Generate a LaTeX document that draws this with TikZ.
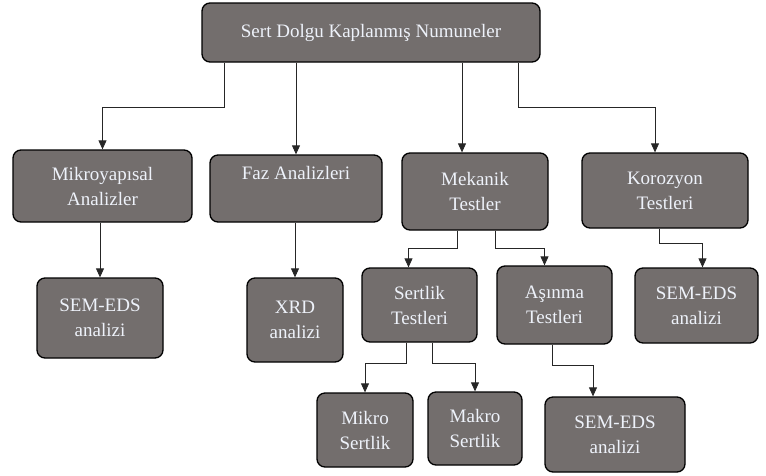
\documentclass[tikz,border=0pt]{standalone}
\usepackage{fontspec}
\setmainfont{Liberation Serif}
\usepackage{tikz}
\usetikzlibrary{arrows,arrows.meta}
\definecolor{boxgray}{HTML}{736E6D}
\definecolor{boxtext}{HTML}{EEF2FA}

\begin{document}
\begin{tikzpicture}[x=1pt, y=-1pt]
    \tikzset{box/.style = {shape=rectangle, draw=black, line width=1.3pt, rounded corners=8pt,
        fill=boxgray, text=boxtext, align=center, inner sep=0pt,
        font=\fontsize{19}{25}\selectfont}}
    \tikzset{edge/.style = {draw=black!85, line width=0.8pt, >={Triangle[length=9pt, width=8pt]}}}

    \useasboundingbox (0,0) rectangle (766,475);

    % vertices
    \node[box, minimum width=338pt, minimum height=59pt] (top) at (371,32.5) {Sert Dolgu Kaplanmış Numuneler};

    \node[box, minimum width=179pt, minimum height=72pt] (mik) at (102.5,186) {Mikroyapısal\\Analizler};
    \node[box, minimum width=172pt, minimum height=67pt] (faz) at (296,188.5) {Faz Analizleri\\[6pt]};
    \node[box, minimum width=146pt, minimum height=77pt] (mek) at (475,191.5) {Mekanik\\Testler};
    \node[box, minimum width=166pt, minimum height=75pt] (kor) at (665,190.5) {Korozyon\\Testleri};

    \node[box, minimum width=126pt, minimum height=80pt] (semA) at (100,318) {SEM-EDS\\analizi};
    \node[box, minimum width=96pt, minimum height=84pt] (xrd) at (295,320) {XRD\\analizi};
    \node[box, minimum width=115pt, minimum height=74pt] (sert) at (419.5,305) {Sertlik\\Testleri};
    \node[box, minimum width=115pt, minimum height=78pt] (asin) at (554.5,305) {Aşınma\\Testleri};
    \node[box, minimum width=123pt, minimum height=75pt] (semB) at (696.5,305.5) {SEM-EDS\\analizi};

    \node[box, minimum width=96pt, minimum height=74pt] (mikro) at (365,430) {Mikro\\Sertlik};
    \node[box, minimum width=94pt, minimum height=73pt] (makro) at (475,428.5) {Makro\\Sertlik};
    \node[box, minimum width=140pt, minimum height=75pt] (semC) at (615,434.5) {SEM-EDS\\analizi};

    % edges
    \draw[edge, ->] ([xshift=23pt]top.south west) -- ++(0,45) -| (mik.north);
    \draw[edge, ->] (top.south -| faz.north) -- (faz.north);
    \draw[edge, ->] ([xshift=-13pt]mek.north |- top.south) -- ([xshift=-13pt]mek.north);
    \draw[edge, ->] ([xshift=-22pt]top.south east) -- ++(0,45) -| ([xshift=-10pt]kor.north);

    \draw[edge, ->] (mik.south -| semA.north) -- (semA.north);
    \draw[edge, ->] (faz.south -| xrd.north) -- (xrd.north);
    \draw[edge, ->] ([xshift=-18pt]mek.south) -- ++(0,18) -| ([xshift=-11pt]sert.north);
    \draw[edge, ->] ([xshift=20pt]mek.south) -- ++(0,18) -| ([xshift=-10pt]asin.north);
    \draw[edge, ->] ([xshift=-6pt]kor.south) -- ++(0,15) -| ([xshift=6pt]semB.north);

    \draw[edge, ->] ([xshift=-13pt]sert.south) -- ++(0,21) -| (mikro.north);
    \draw[edge, ->] ([xshift=13pt]sert.south) -- ++(0,21) -| (makro.north);
    \draw[edge, ->] ([xshift=-2pt]asin.south) -- ++(0,21) -| ([xshift=-22pt]semC.north);
\end{tikzpicture}
\end{document}
